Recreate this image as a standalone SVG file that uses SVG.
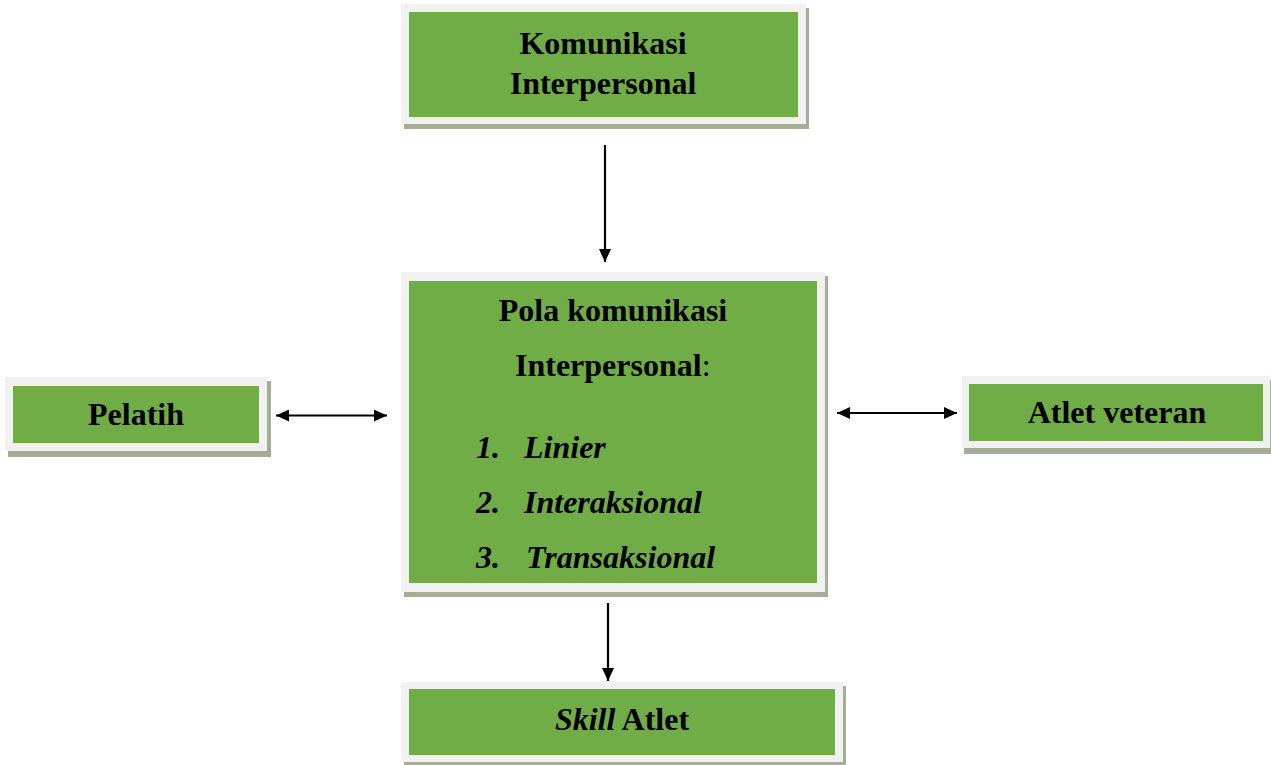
<svg xmlns="http://www.w3.org/2000/svg" width="1271" height="765" viewBox="0 0 1271 765">
<style>
.sh{fill:#a4ae95}
.out{fill:#f1f1f1}
.in{fill:#70ad47}
text{font-family:'Liberation Serif','Times New Roman',Times,serif;font-size:32px;font-weight:bold;fill:#000}
.i{font-style:italic}
.ln{stroke:#000;stroke-width:2.2;fill:none}
</style>
<defs>
<marker id="ah" viewBox="0 0 13 12" refX="13" refY="6" markerWidth="13" markerHeight="12" markerUnits="userSpaceOnUse" orient="auto-start-reverse">
<path d="M0,0 L13,6 L0,12 Z" fill="#000"/>
</marker>
</defs>
<rect width="1271" height="765" fill="#fff"/>
<g id="komunikasi">
<rect class="sh" x="404" y="8" width="405" height="121"/>
<rect class="out" x="401" y="4" width="405" height="120"/>
<rect class="in" x="409" y="12" width="389" height="105"/>
<text x="603" y="54" text-anchor="middle">Komunikasi</text>
<text x="603" y="94" text-anchor="middle">Interpersonal</text>
</g>
<g id="pelatih">
<rect class="sh" x="8" y="381" width="263" height="76"/>
<rect class="out" x="5" y="377" width="262" height="74"/>
<rect class="in" x="13" y="386" width="246" height="57"/>
<text x="136" y="425" text-anchor="middle">Pelatih</text>
</g>
<g id="pola">
<rect class="sh" x="404" y="276" width="424" height="321"/>
<rect class="out" x="401" y="272" width="424" height="320"/>
<rect class="in" x="409" y="281" width="408" height="302"/>
<text x="613" y="321" text-anchor="middle">Pola komunikasi</text>
<text x="515" y="376">Interpersonal<tspan font-weight="normal">:</tspan></text>
<text class="i" x="476" y="458">1.</text>
<text class="i" x="524" y="458">Linier</text>
<text class="i" x="476" y="513">2.</text>
<text class="i" x="524" y="513">Interaksional</text>
<text class="i" x="476" y="568">3.</text>
<text class="i" x="526" y="568">Transaksional</text>
</g>
<g id="atlet-veteran">
<rect class="sh" x="964" y="380" width="307" height="74"/>
<rect class="out" x="962" y="376" width="308" height="72"/>
<rect class="in" x="969" y="384" width="294" height="57"/>
<text x="1117" y="423" text-anchor="middle">Atlet veteran</text>
</g>
<g id="skill-atlet">
<rect class="sh" x="404" y="686" width="442" height="79"/>
<rect class="out" x="401" y="682" width="442" height="80"/>
<rect class="in" x="409" y="689" width="426" height="66"/>
<text x="622" y="730" text-anchor="middle"><tspan class="i">Skill</tspan> Atlet</text>
</g>
<g id="connectors">
<line class="ln" x1="605" y1="145" x2="605" y2="262" marker-end="url(#ah)"/>
<line class="ln" x1="608" y1="603" x2="608" y2="681" marker-end="url(#ah)"/>
<line class="ln" x1="276" y1="415.5" x2="387" y2="415.5" marker-start="url(#ah)" marker-end="url(#ah)"/>
<line class="ln" x1="837" y1="413" x2="957" y2="413" marker-start="url(#ah)" marker-end="url(#ah)"/>
</g>
</svg>
